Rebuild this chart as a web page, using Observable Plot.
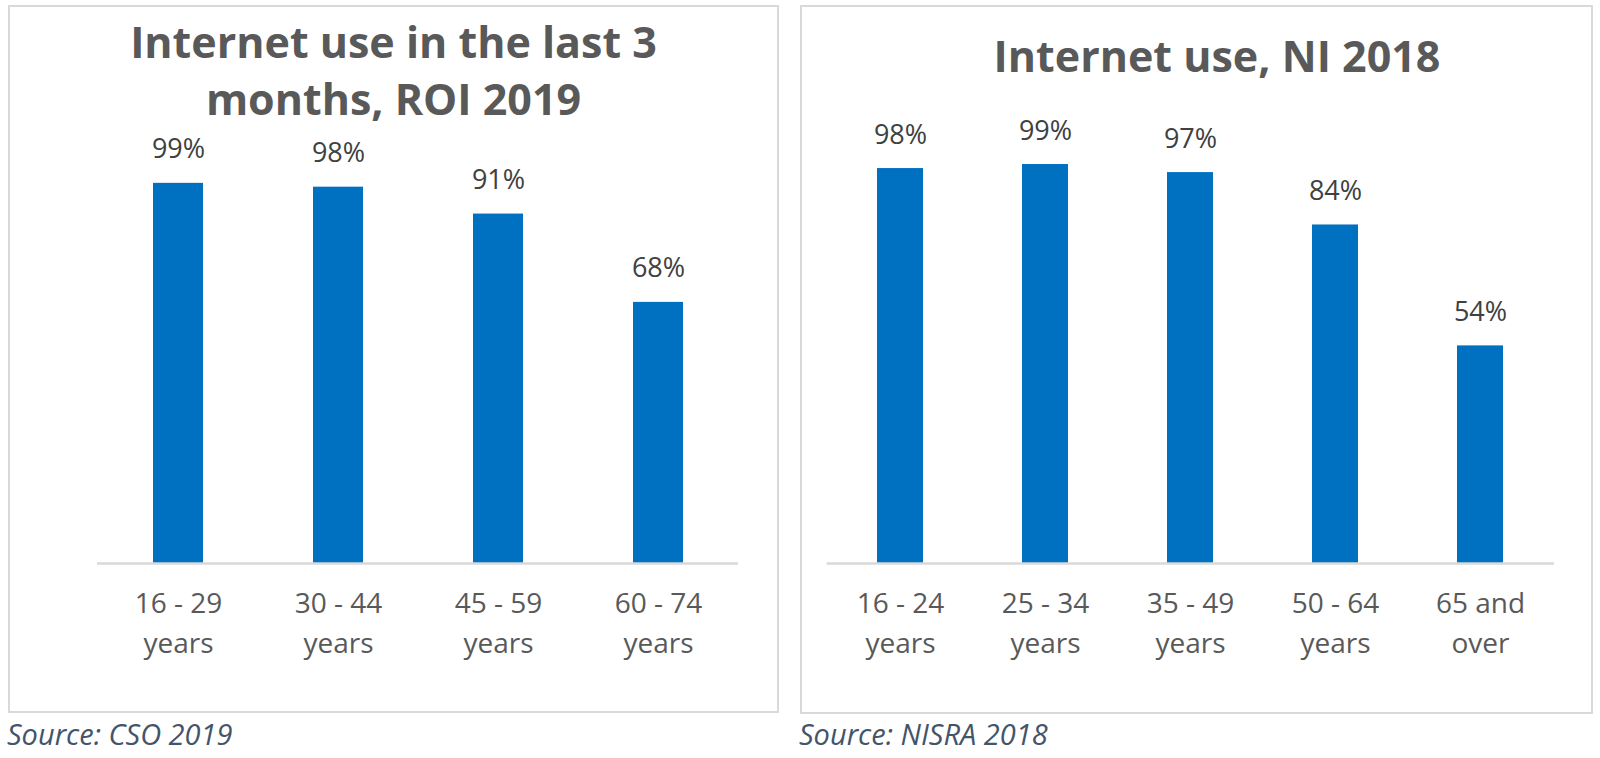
<!DOCTYPE html>
<html>
<head>
<meta charset="utf-8">
<script src="https://cdn.jsdelivr.net/npm/d3@7"></script>
<script src="https://cdn.jsdelivr.net/npm/@observablehq/plot@0.6"></script>
<style>
  html, body { margin: 0; padding: 0; background: #fff; }
  #root { position: relative; width: 1600px; height: 758px; overflow: hidden; font-family: "Open Sans", sans-serif; }
  .frame { position: absolute; border: 2px solid #D9D9D9; box-sizing: border-box; }
  .title { position: absolute; font-weight: 700; font-size: 43px; line-height: 57px; color: #595959; text-align: center; white-space: nowrap; }
  .source { position: absolute; font-style: italic; font-size: 29px; line-height: 1; color: #44546A; white-space: nowrap; }
  .plot { position: absolute; }
</style>
</head>
<body>
<div id="root">
  <div class="frame" style="left:8px;top:5px;width:771px;height:708px;"></div>
  <div class="frame" style="left:800px;top:5px;width:793px;height:709px;"></div>
  <div class="title" style="left:8px;top:13px;width:771px;">Internet use in the last 3<br>months, ROI 2019</div>
  <div class="title" style="left:917px;top:27px;width:600px;">Internet use, NI 2018</div>
  <div class="source" style="left:7px;top:719px;">Source: CSO 2019</div>
  <div class="source" style="left:799px;top:719px;">Source: NISRA 2018</div>
  <div class="plot" id="left" style="left:0px;top:130px;"></div>
  <div class="plot" id="right" style="left:800px;top:100px;"></div>
</div>
<script>
// ROI 2019 — internet use in the last 3 months
const roiAges = ["16 - 29 years", "30 - 44 years", "45 - 59 years", "60 - 74 years"];
const roiTickLabels = ["16 - 29\nyears", "30 - 44\nyears", "45 - 59\nyears", "60 - 74\nyears"];
const roiValues = [99, 98, 91, 68];

// NI 2018 — internet use
const niAges = ["16 - 24 years", "25 - 34 years", "35 - 49 years", "50 - 64 years", "65 and over"];
const niTickLabels = ["16 - 24\nyears", "25 - 34\nyears", "35 - 49\nyears", "50 - 64\nyears", "65 and\nover"];
const niValues = [98, 99, 97, 84, 54];

function panel(ages, labels, values, opts) {
  const data = ages.map((a, i) => ({age: a, value: values[i]}));
  const labelOf = new Map(ages.map((a, i) => [a, labels[i]]));
  return Plot.plot({
    width: opts.width,
    height: opts.height,
    marginTop: opts.marginTop,
    marginBottom: opts.marginBottom,
    marginLeft: opts.marginLeft,
    marginRight: opts.marginRight,
    style: {fontFamily: "Open Sans", background: "transparent", overflow: "visible"},
    x: {domain: ages, paddingInner: opts.pInner, paddingOuter: opts.pInner / 2, label: null},
    y: {domain: [0, 100], axis: null},
    marks: [
      Plot.barY(data, {x: "age", y: "value", fill: "#0070C0"}),
      Plot.ruleY([0], {stroke: "#D9D9D9", strokeWidth: 2.5}),
      Plot.text(data, {x: "age", y: "value", text: d => d.value + "%", dy: -25, lineAnchor: "bottom",
        fontSize: 27, fill: "#404040"}),
      Plot.axisX({tickSize: 0, tickPadding: 21, fontSize: 28, lineHeight: 1.43, color: "#595959",
        tickFormat: d => labelOf.get(d), label: null})
    ]
  });
}

document.getElementById("left").appendChild(panel(roiAges, roiTickLabels, roiValues, {
  width: 790, height: 560, marginTop: 49, marginBottom: 127, marginLeft: 97, marginRight: 52, pInner: 0.6875
}));
document.getElementById("right").appendChild(panel(niAges, niTickLabels, niValues, {
  width: 800, height: 590, marginTop: 60, marginBottom: 127, marginLeft: 26.5, marginRight: 46, pInner: 0.684
}));
</script>
</body>
</html>
